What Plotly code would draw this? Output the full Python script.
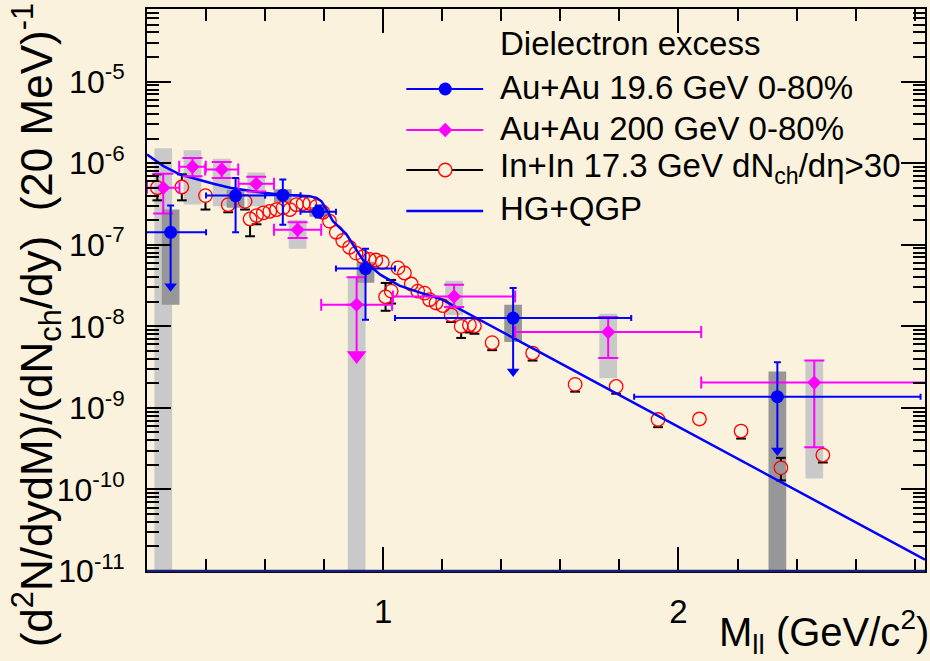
import numpy as np
import plotly.graph_objects as go

BG = '#FAF2DC'
BLUE = '#0000FF'
MAG = '#FF00FF'
RED = '#FF0000'
LIGHT_GRAY = '#C9C9C9'
DARK_GRAY = '#979799'
FONT = 'Liberation Sans, Arial, Helvetica, sans-serif'

# ---------------- data ----------------
# Au+Au 19.6 GeV 0-80%
b_x = [0.28, 0.50, 0.66, 0.78, 0.94, 1.44, 2.335]
b_y = [1.42e-7, 4.0e-7, 4.05e-7, 2.53e-7, 5.1e-8, 1.26e-8, 1.37e-9]
b_xerr = [0.12, 0.10, 0.06, 0.06, 0.10, 0.40, 0.485]
b_yerr_plus = [1.6e-7, 2.6e-7, 2.25e-7, 0.5e-7, 3.8e-8, 1.68e-8, 2.26e-9]
b_yerr_minus = [0.0, 2.58e-7, 2.29e-7, 0.38e-7, 3.9e-8, 0.0, 0.0]
b_arrow_end = [3.1e-8, None, None, None, None, 2.8e-9, 3.0e-10]
b_sys_lo = [1.84e-8, 2.84e-7, 3.3e-7, 2.2e-7, 3.42e-8, 6.4e-9, 1e-13]
b_sys_hi = [2.70e-7, 4.73e-7, 4.8e-7, 2.9e-7, 6.2e-8, 1.84e-8, 2.79e-9]

# Au+Au 200 GeV 0-80%
m_x = [0.255, 0.354, 0.453, 0.57, 0.71, 0.91, 1.24, 1.762, 2.46]
m_y = [4.99e-7, 9.04e-7, 8.37e-7, 5.58e-7, 1.53e-7, 1.84e-8, 2.32e-8, 8.5e-9, 2.04e-9]
m_xerr = [0.055, 0.045, 0.056, 0.06, 0.08, 0.12, 0.207, 0.315, 0.383]
m_yerr_plus = [2.41e-7, 2.56e-7, 1.93e-7, 1.22e-7, 0.35e-7, 2.16e-8, 0.92e-8, 4.5e-9, 1.76e-9]
m_yerr_minus = [2.58e-7, 2.14e-7, 1.77e-7, 1.08e-7, 0.32e-7, 0.0, 0.6e-8, 4.4e-9, 1.71e-9]
m_arrow_end = [None, None, None, None, None, 4.4e-9, None, None, None]
m_sys_lo = [1e-13, 3.11e-7, 2.96e-7, 2.96e-7, 8.9e-8, 1e-13, 1.38e-8, 2.31e-9, 1.36e-10]
m_sys_hi = [1.52e-6, 1.44e-6, 1.13e-6, 7.7e-7, 2.03e-7, 4.09e-8, 3.62e-8, 1.43e-8, 3.77e-9]

# In+In 17.3 GeV dNch/deta>30
r_x = [0.235, 0.318, 0.398, 0.475, 0.532, 0.549, 0.571, 0.594, 0.616, 0.639,
       0.661, 0.684, 0.706, 0.729, 0.751, 0.774, 0.796, 0.818, 0.841, 0.863,
       0.886, 0.908, 0.931, 0.953, 0.975, 0.997, 1.008, 1.027, 1.05, 1.072,
       1.095, 1.117, 1.14, 1.157, 1.179, 1.202, 1.23, 1.264, 1.292, 1.309,
       1.369, 1.506, 1.65, 1.789, 1.931, 2.071, 2.212, 2.347, 2.489]
r_y = [5.0e-7, 5.1e-7, 4.0e-7, 3.1e-7, 3.4e-7, 2.07e-7, 2.28e-7, 2.46e-7, 2.57e-7, 2.70e-7,
       2.83e-7, 2.70e-7, 3.1e-7, 3.2e-7, 3.22e-7, 2.95e-7, 2.5e-7, 1.95e-7, 1.42e-7, 1.13e-7,
       9.3e-8, 7.9e-8, 7.1e-8, 6.6e-8, 6.5e-8, 6.1e-8, 2.3e-8, 2.7e-8, 5.2e-8, 4.5e-8,
       3.3e-8, 2.7e-8, 2.55e-8, 2.12e-8, 1.93e-8, 1.79e-8, 1.38e-8, 1.0e-8, 1.04e-8, 1.01e-8,
       6.3e-9, 4.7e-9, 1.94e-9, 1.83e-9, 7.2e-10, 7.3e-10, 5.2e-10, 1.84e-10, 2.64e-10]
r_em = [1.5e-7, 1.6e-7, 1.3e-7, 0.6e-7, 0.7e-7, 0.8e-7, 0.5e-7, 0.4e-7, 0.35e-7, 0.35e-7,
        0.35e-7, 0.3e-7, 0.3e-7, 0.3e-7, 0.3e-7, 0.25e-7, 0.2e-7, 0.15e-7, 0.1e-7, 0.08e-7,
        0.6e-8, 0.5e-8, 0.45e-8, 0.4e-8, 0.4e-8, 0.4e-8, 0.75e-8, 0.8e-8, 0.6e-8, 0.5e-8,
        0.4e-8, 0.35e-8, 0.35e-8, 0.3e-8, 0.3e-8, 0.3e-8, 0.25e-8, 0.28e-8, 0.2e-8, 0.2e-8,
        1.2e-9, 0.9e-9, 3.6e-10, 3.4e-10, 1.4e-10, 1.2e-10, 1.0e-10, 0.55e-10, 0.5e-10]
r_ep = [2.3e-7, 2.2e-7, 0.7e-7, 0.6e-7, 0.5e-7, 0.3e-7, 0.3e-7, 0.3e-7, 0.3e-7, 0.3e-7,
        0.3e-7, 0.3e-7, 0.3e-7, 0.3e-7, 0.3e-7, 0.25e-7, 0.2e-7, 0.15e-7, 0.1e-7, 0.08e-7,
        0.6e-8, 0.5e-8, 0.45e-8, 0.4e-8, 0.4e-8, 0.4e-8, 1.1e-8, 1.0e-8, 0.6e-8, 0.5e-8,
        0.4e-8, 0.35e-8, 0.35e-8, 0.3e-8, 0.3e-8, 0.3e-8, 0.25e-8, 0.2e-8, 0.2e-8, 0.2e-8,
        1.0e-9, 0.8e-9, 3e-10, 3e-10, 1.2e-10, 1.2e-10, 1.0e-10, 0.6e-10, 0.5e-10]

# HG+QGP model
c_x = [0.20, 0.256, 0.312, 0.369, 0.425, 0.481, 0.537, 0.594, 0.65, 0.706, 0.751,
       0.774, 0.791, 0.808, 0.83, 0.875, 0.93, 0.99, 1.055, 1.12, 1.2, 1.5, 2.0, 2.5, 2.835]
c_y = [1.28e-6, 9.2e-7, 7.26e-7, 6.3e-7, 5.6e-7, 4.99e-7, 4.62e-7, 4.33e-7, 4.13e-7, 4.01e-7, 3.94e-7,
       3.76e-7, 3.41e-7, 2.7e-7, 1.94e-7, 1.35e-7, 6.6e-8, 4.3e-8, 3.15e-8, 2.62e-8, 2.12e-8,
       5.52e-9, 5.86e-10, 6.2e-11, 1.38e-11]

# axes
X_RANGE = [0.2, 2.835]
Y_LOG_RANGE = [-11.0, -4.11]
y_tick_vals = [1e-11, 1e-10, 1e-9, 1e-8, 1e-7, 1e-6, 1e-5]
y_tick_text = ['10<sup>-11</sup>', '10<sup>-10</sup>', '10<sup>-9</sup>', '10<sup>-8</sup>',
               '10<sup>-7</sup>', '10<sup>-6</sup>', '10<sup>-5</sup>']
x_tick_vals = [1, 2]
x_tick_text = ['1', '2']

# ---------------- layout geometry ----------------
W, H = 930, 661
ML, MR, MT, MB = 147, 3, 9, 90
PLOT_W = W - ML - MR
PLOT_H = H - MT - MB
PPD = PLOT_H / (Y_LOG_RANGE[1] - Y_LOG_RANGE[0])  # pixels per decade


def fx(px):
    return (px - ML) / PLOT_W


def fy(py):
    return (H - MB - py) / PLOT_H


fig = go.Figure()


def box_trace(xc, lo, hi, hw, color):
    xs, ys = [], []
    for x, l, h in zip(xc, lo, hi):
        xs += [x - hw, x + hw, x + hw, x - hw, x - hw, None]
        ys += [l, l, h, h, l, None]
    return go.Scatter(x=xs, y=ys, mode='lines', fill='toself', fillcolor=color,
                      line=dict(width=0, color=color), hoverinfo='skip', showlegend=False)


BOX_HW = 0.03
fig.add_trace(box_trace(m_x, m_sys_lo, m_sys_hi, BOX_HW, LIGHT_GRAY))
fig.add_trace(box_trace(b_x, b_sys_lo, b_sys_hi, BOX_HW, DARK_GRAY))

# In+In error bars drawn outside the hollow marker (ROOT style)
R_PX = 6.5
seg_x, seg_y, cap_x, cap_y = [], [], [], []
for x, y, em, ep in zip(r_x, r_y, r_em, r_ep):
    hi = y + ep
    if (np.log10(hi) - np.log10(y)) * PPD > R_PX:
        seg_x += [x, x, None]
        seg_y += [y * 10 ** (R_PX / PPD), hi, None]
        cap_x.append(x)
        cap_y.append(hi)
    lo = y - em
    if lo > 0 and (np.log10(y) - np.log10(lo)) * PPD > R_PX:
        seg_x += [x, x, None]
        seg_y += [y * 10 ** (-R_PX / PPD), lo, None]
        cap_x.append(x)
        cap_y.append(lo)
fig.add_trace(go.Scatter(x=seg_x, y=seg_y, mode='lines', line=dict(color='black', width=2),
                         hoverinfo='skip', showlegend=False))
fig.add_trace(go.Scatter(x=cap_x, y=cap_y, mode='markers',
                         marker=dict(symbol='line-ew', size=7, line=dict(color='black', width=2)),
                         hoverinfo='skip', showlegend=False))
fig.add_trace(go.Scatter(x=r_x, y=r_y, mode='markers', name='In+In 17.3 GeV',
                         marker=dict(symbol='circle-open', size=13.5, color=RED, line=dict(width=1.3, color=RED)),
                         showlegend=False))

# model curve
fig.add_trace(go.Scatter(x=c_x, y=c_y, mode='lines', line=dict(color=BLUE, width=2.5),
                         name='HG+QGP', showlegend=False))

# Au+Au 200 GeV
fig.add_trace(go.Scatter(
    x=m_x, y=m_y, mode='markers', name='Au+Au 200 GeV', showlegend=False,
    marker=dict(symbol='diamond', size=11, color=MAG),
    error_x=dict(type='data', array=m_xerr, color=MAG, thickness=2, width=6),
    error_y=dict(type='data', array=m_yerr_plus, arrayminus=m_yerr_minus, symmetric=False,
                 color=MAG, thickness=2, width=10)))
ax_, ay_, hx_, hy_ = [], [], [], []
for x, y, e in zip(m_x, m_y, m_arrow_end):
    if e is not None:
        ax_ += [x, x, None]
        ay_ += [y, e, None]
        hx_.append(x)
        hy_.append(e)
fig.add_trace(go.Scatter(x=ax_, y=ay_, mode='lines', line=dict(color=MAG, width=2),
                         hoverinfo='skip', showlegend=False))
fig.add_trace(go.Scatter(x=hx_, y=hy_, mode='markers', marker=dict(symbol='triangle-down', size=17, color=MAG),
                         hoverinfo='skip', showlegend=False))

# Au+Au 19.6 GeV
fig.add_trace(go.Scatter(
    x=b_x, y=b_y, mode='markers', name='Au+Au 19.6 GeV', showlegend=False,
    marker=dict(symbol='circle', size=13, color=BLUE),
    error_x=dict(type='data', array=b_xerr, color=BLUE, thickness=2, width=3),
    error_y=dict(type='data', array=b_yerr_plus, arrayminus=b_yerr_minus, symmetric=False,
                 color=BLUE, thickness=2, width=3.5)))
ax_, ay_, hx_, hy_ = [], [], [], []
for x, y, e in zip(b_x, b_y, b_arrow_end):
    if e is not None:
        ax_ += [x, x, None]
        ay_ += [y, e, None]
        hx_.append(x)
        hy_.append(e)
fig.add_trace(go.Scatter(x=ax_, y=ay_, mode='lines', line=dict(color=BLUE, width=2),
                         hoverinfo='skip', showlegend=False))
fig.add_trace(go.Scatter(x=hx_, y=hy_, mode='markers', marker=dict(symbol='triangle-down', size=11, color=BLUE),
                         hoverinfo='skip', showlegend=False))

# ---------------- manual legend (overlay axes in paper units) ----------------
LEG_X0, LEG_X1, LEG_XM = fx(407), fx(484), fx(446)
legend_rows = [
    dict(py=89, line=BLUE, marker=dict(symbol='circle', size=13, color=BLUE)),
    dict(py=130, line=MAG, marker=dict(symbol='diamond', size=11, color=MAG)),
    dict(py=170, line='black', marker=dict(symbol='circle', size=13.5, color=BG, line=dict(color=RED, width=1.3))),
    dict(py=211, line=BLUE, marker=None),
]
for row in legend_rows:
    yy = fy(row['py'])
    fig.add_trace(go.Scatter(x=[LEG_X0, LEG_X1], y=[yy, yy], mode='lines', xaxis='x2', yaxis='y2',
                             line=dict(color=row['line'], width=2.5 if row['marker'] is None else 2),
                             hoverinfo='skip', showlegend=False))
    if row['marker'] is not None:
        fig.add_trace(go.Scatter(x=[LEG_XM], y=[yy], mode='markers', xaxis='x2', yaxis='y2',
                                 marker=row['marker'], hoverinfo='skip', showlegend=False))

legend_texts = [
    (44, 'Dielectron excess'),
    (87, 'Au+Au 19.6 GeV 0-80%'),
    (128, 'Au+Au 200 GeV 0-80%'),
    (168, 'In+In 17.3 GeV dN<sub>ch</sub>/dη>30'),
    (209, 'HG+QGP'),
]
annotations = []
for py, txt in legend_texts:
    annotations.append(dict(x=fx(499), y=fy(py), xref='paper', yref='paper', text=txt, showarrow=False,
                            xanchor='left', yanchor='middle', font=dict(family=FONT, size=33, color='black')))

# axis titles
annotations.append(dict(x=fx(36), y=fy(325), xref='paper', yref='paper', textangle=-90, showarrow=False,
                        xanchor='center', yanchor='middle',
                        text='(d<sup>2</sup>N/dydM)/(dN<sub>ch</sub>/dy)  (20 MeV)<sup>-1</sup>',
                        font=dict(family=FONT, size=44, color='black')))
annotations.append(dict(x=1.0, y=fy(632), xref='paper', yref='paper', showarrow=False,
                        xanchor='right', yanchor='middle', xshift=6,
                        text='M<sub>ll</sub> (GeV/c<sup>2</sup>)',
                        font=dict(family=FONT, size=40, color='black')))

fig.update_layout(
    width=W, height=H,
    margin=dict(l=ML, r=MR, t=MT, b=MB, pad=0),
    paper_bgcolor=BG, plot_bgcolor=BG,
    showlegend=False,
    font=dict(family=FONT, color='black'),
    annotations=annotations,
    xaxis=dict(range=X_RANGE, tickmode='array', tickvals=x_tick_vals, ticktext=x_tick_text,
               ticks='inside', ticklen=24, tickwidth=2, tickcolor='black',
               showline=True, linecolor='black', linewidth=2, mirror='allticks',
               showgrid=False, zeroline=False, ticklabelstandoff=10,
               tickfont=dict(family=FONT, size=33, color='black'),
               minor=dict(tick0=0, dtick=0.2, ticks='inside', ticklen=12, tickwidth=1.5,
                          tickcolor='black', showgrid=False)),
    yaxis=dict(type='log', range=Y_LOG_RANGE, tickmode='array', tickvals=y_tick_vals, ticktext=y_tick_text,
               ticks='inside', ticklen=24, tickwidth=2, tickcolor='black',
               showline=True, linecolor='black', linewidth=2, mirror='allticks',
               showgrid=False, zeroline=False, ticklabelstandoff=14,
               tickfont=dict(family=FONT, size=32, color='black'),
               minor=dict(dtick='D1', ticks='inside', ticklen=12, tickwidth=1.5,
                          tickcolor='black', showgrid=False)),
    xaxis2=dict(domain=[0, 1], range=[0, 1], overlaying='x', anchor='y2', visible=False, fixedrange=True),
    yaxis2=dict(domain=[0, 1], range=[0, 1], overlaying='y', anchor='x2', visible=False, fixedrange=True),
    shapes=[dict(type='line', xref='paper', yref='paper', x0=0, x1=1, y0=0, y1=0,
                 line=dict(color='#1c1c7a', width=2.5), layer='above')],
)

fig.write_html('out.html')
